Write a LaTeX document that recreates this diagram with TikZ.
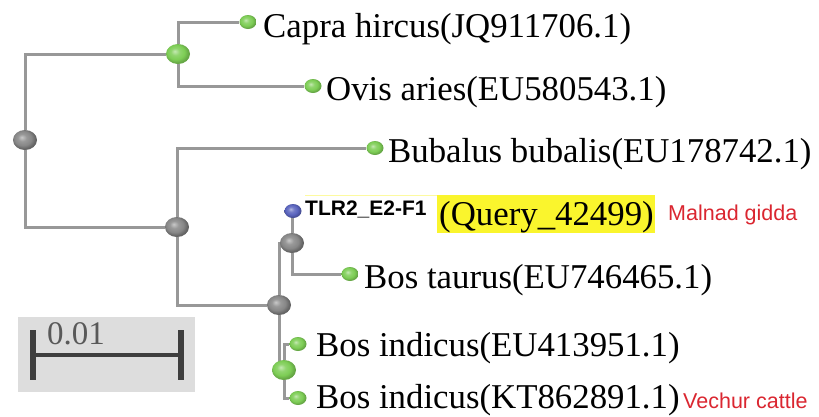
\documentclass[tikz,border=0pt]{standalone}
\usepackage{fontspec}
\setmainfont{Liberation Serif}
\newfontfamily\arialfont{Liberation Sans}
\usetikzlibrary{shapes.geometric,backgrounds}
\definecolor{edgegray}{RGB}{152,152,152}
\definecolor{bargray}{RGB}{62,62,62}
\definecolor{boxgray}{RGB}{221,221,221}
\definecolor{labred}{RGB}{218,38,48}
\definecolor{hiyellow}{RGB}{250,245,45}
\definecolor{ballgreen}{RGB}{125,205,85}
\definecolor{ballgray}{RGB}{135,135,135}
\definecolor{ballblue}{RGB}{90,100,190}
\pgfdeclareradialshading{greenball}{\pgfqpoint{-7bp}{7bp}}{color(0bp)=(ballgreen!45!white); color(9bp)=(ballgreen!85!white); color(18bp)=(ballgreen); color(25bp)=(ballgreen!82!black); color(50bp)=(ballgreen!70!black)}
\pgfdeclareradialshading{grayball}{\pgfqpoint{-7bp}{7bp}}{color(0bp)=(ballgray!45!white); color(9bp)=(ballgray!85!white); color(18bp)=(ballgray); color(25bp)=(ballgray!75!black); color(50bp)=(ballgray!65!black)}
\pgfdeclareradialshading{blueball}{\pgfqpoint{-7bp}{7bp}}{color(0bp)=(ballblue!45!white); color(9bp)=(ballblue!85!white); color(18bp)=(ballblue); color(25bp)=(ballblue!80!black); color(50bp)=(ballblue!70!black)}
\tikzset{
  edge/.style={draw=edgegray,line width=3pt},
  ballnode/.style={ellipse,inner sep=0pt,draw=none},
  leaf/.style={ballnode,shading=greenball,minimum width=17pt,minimum height=14pt},
  ingreen/.style={ballnode,shading=greenball,minimum width=24pt,minimum height=20pt},
  ingray/.style={ballnode,shading=grayball,minimum width=24pt,minimum height=20pt},
  inblue/.style={ballnode,shading=blueball,minimum width=17pt,minimum height=14pt},
  taxon/.style={anchor=base west,inner sep=0pt,font=\fontsize{34.8}{40}\selectfont},
  redlab/.style={anchor=base west,inner sep=0pt,text=labred,font=\arialfont\fontsize{21.5}{25}\selectfont},
}
\begin{document}
\begin{tikzpicture}[x=1pt,y=-1pt]
\useasboundingbox (0,0) rectangle (819,416);
% internal nodes
\node[ingray]  (R) at (25,140) {};
\node[ingreen] (A) at (178,54) {};
\node[ingray]  (B) at (177,227) {};
\node[ingray]  (P) at (279,305) {};
\node[ingray]  (Q) at (292,243) {};
\node[ingreen] (G) at (284,370) {};
% leaves
\node[leaf]   (capra) at (248,22) {};
\node[leaf]   (ovis)  at (313,86) {};
\node[leaf]   (bub)   at (375,148) {};
\node[inblue] (tlr)   at (293,211) {};
\node[leaf]   (taur)  at (350,274) {};
\node[leaf]   (ind1)  at (298,344) {};
\node[leaf]   (ind2)  at (298,398) {};
% edges
\begin{pgfonlayer}{background}
\draw[edge] (R) |- (A);
\draw[edge] (R) |- (B);
\draw[edge] (A) |- (capra);
\draw[edge] (A) |- (ovis);
\draw[edge] (B) |- (bub);
\draw[edge] (B) |- (P);
\draw[edge] (P) |- (Q);
\draw[edge] (P) |- (G);
\draw[edge] (Q) |- (tlr);
\draw[edge] (Q) |- (taur);
\draw[edge] (G) |- (ind1);
\draw[edge] (G) |- (ind2);
% highlight
\fill[hiyellow] (437,195) rectangle (655,233);
\draw[hiyellow!45,line width=1pt] (305,195.5) -- (437,195.5);
\end{pgfonlayer}
% labels
\node[taxon] (lcapra) at (263,37) {Capra hircus(JQ911706.1)};
\node[taxon] (lovis)  at (326,100) {Ovis aries(EU580543.1)};
\node[taxon] (lbub)   at (388,162) {Bubalus bubalis(EU178742.1)};
\node[anchor=base west,inner sep=0pt,font=\arialfont\bfseries\fontsize{21}{24}\selectfont] (ltlr) at (305,215) {TLR2\_E2-F1};
\node[taxon] (lquery) at (439,225) {(Query\_42499)};
\node[redlab] (lmal) at (668,220) {Malnad gidda};
\node[taxon] (ltaur)  at (364,288) {Bos taurus(EU746465.1)};
\node[taxon] (lind1)  at (316,356) {Bos indicus(EU413951.1)};
\node[taxon] (lind2)  at (316,408) {Bos indicus(KT862891.1)};
\node[redlab] (lvech) at (683,408) {Vechur cattle};
% scale bar
\fill[boxgray] (18,317) rectangle (195,392);
\draw[bargray,line width=4pt] (33,355) -- (181,355);
\draw[bargray,line width=6.5pt] (33,330) -- (33,380);
\draw[bargray,line width=6.5pt] (181,330) -- (181,380);
\node[anchor=base west,inner sep=0pt,text=black!65,font=\fontsize{33}{38}\selectfont] (lscale) at (47,344) {0.01};
\end{tikzpicture}
\end{document}
